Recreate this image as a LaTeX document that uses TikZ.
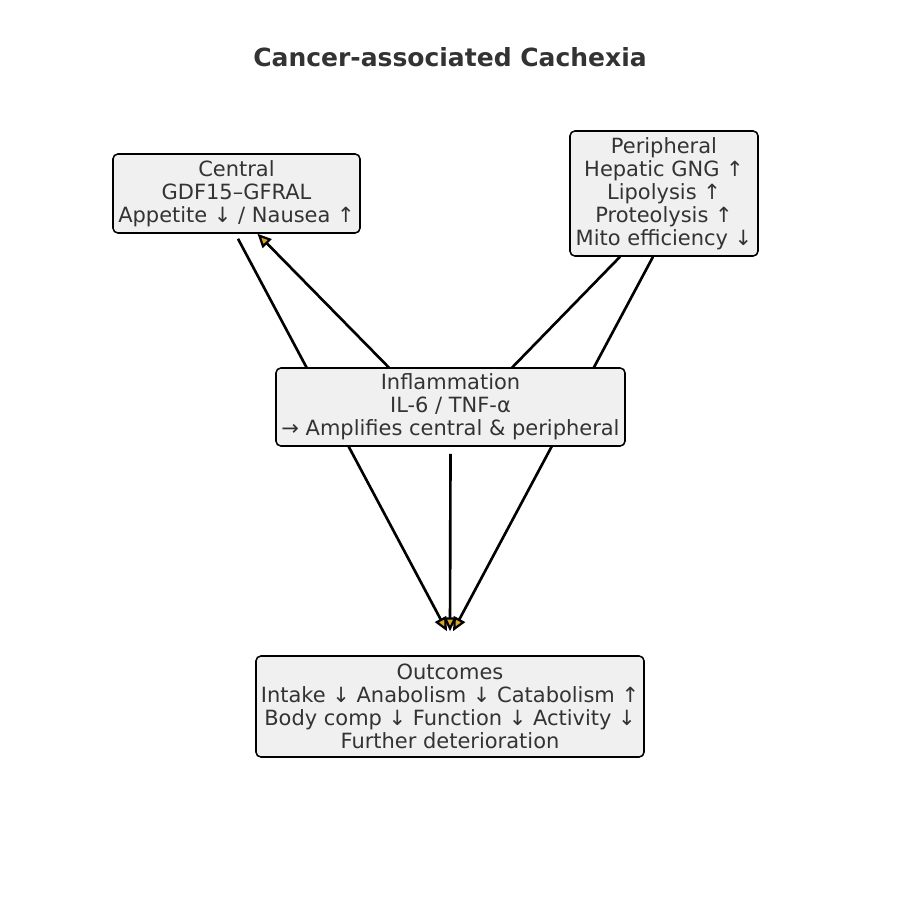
\documentclass[tikz,border=0pt]{standalone}
\usepackage{fontspec}
\setmainfont{DejaVu Sans}
\usetikzlibrary{arrows.meta,calc}
\pgfdeclarelayer{background}
\pgfsetlayers{background,main}
\definecolor{txt}{HTML}{333333}
\definecolor{boxfill}{HTML}{F0F0F0}
\definecolor{headfill}{HTML}{DAA520}
\tikzset{
  box/.style={draw=black, line width=1.1pt, fill=boxfill, rounded corners=3.5pt,
    text=txt, align=center, inner sep=0pt,
    font=\fontsize{15.1pt}{16.6pt}\selectfont},
  conn/.style={line width=1.9pt, draw=black},
  arr/.style={conn, -{Triangle[length=10pt,width=9pt,fill=headfill,line width=1.6pt]}},
}
\begin{document}
\begin{tikzpicture}[x=0.72pt,y=-0.72pt]
\useasboundingbox (0,0) rectangle (900,900);
\node[text=txt, font=\fontsize{18pt}{21pt}\selectfont\bfseries] (title) at (450,57) {Cancer-associated Cachexia};
\node[box, minimum width={247*0.72pt}, minimum height={79*0.72pt}] (cen) at (236.5,193.5)
  {Central\\GDF15–GFRAL\\Appetite ↓ / Nausea ↑};
\node[box, minimum width={188*0.72pt}, minimum height={125*0.72pt}] (per) at (664,193.5)
  {Peripheral\\Hepatic GNG ↑\\Lipolysis ↑\\Proteolysis ↑\\Mito efficiency ↓};
\node[box, minimum width={349*0.72pt}, minimum height={78*0.72pt}] (infl) at (450.5,407)
  {Inflammation\\IL-6 / TNF-α\\→ Amplifies central \& peripheral};
\node[box, minimum width={388*0.72pt}, minimum height={101*0.72pt}] (out) at (450,706.5)
  {Outcomes\\Intake ↓ Anabolism ↓ Catabolism ↑\\Body comp ↓ Function ↓ Activity ↓\\Further deterioration};
\begin{pgfonlayer}{background}
\draw[arr] ($(cen.south)+(1.5,5)$) -- ($(out.north)+(-3,-24)$);
\draw[arr] ($(infl.north)+(-58,4)$) -- ($(cen.south)+(21,0)$);
\draw[conn] ($(per.south)+(-44,0)$) -- ($(infl.north)+(58,4)$);
\draw[arr] ($(per.south)+(-11,0)$) -- ($(out.north)+(3,-24)$);
\draw[arr] ($(infl.south)+(0,7)$) -- ($(out.north)+(0,-24)$);
\end{pgfonlayer}
\end{tikzpicture}
\end{document}
